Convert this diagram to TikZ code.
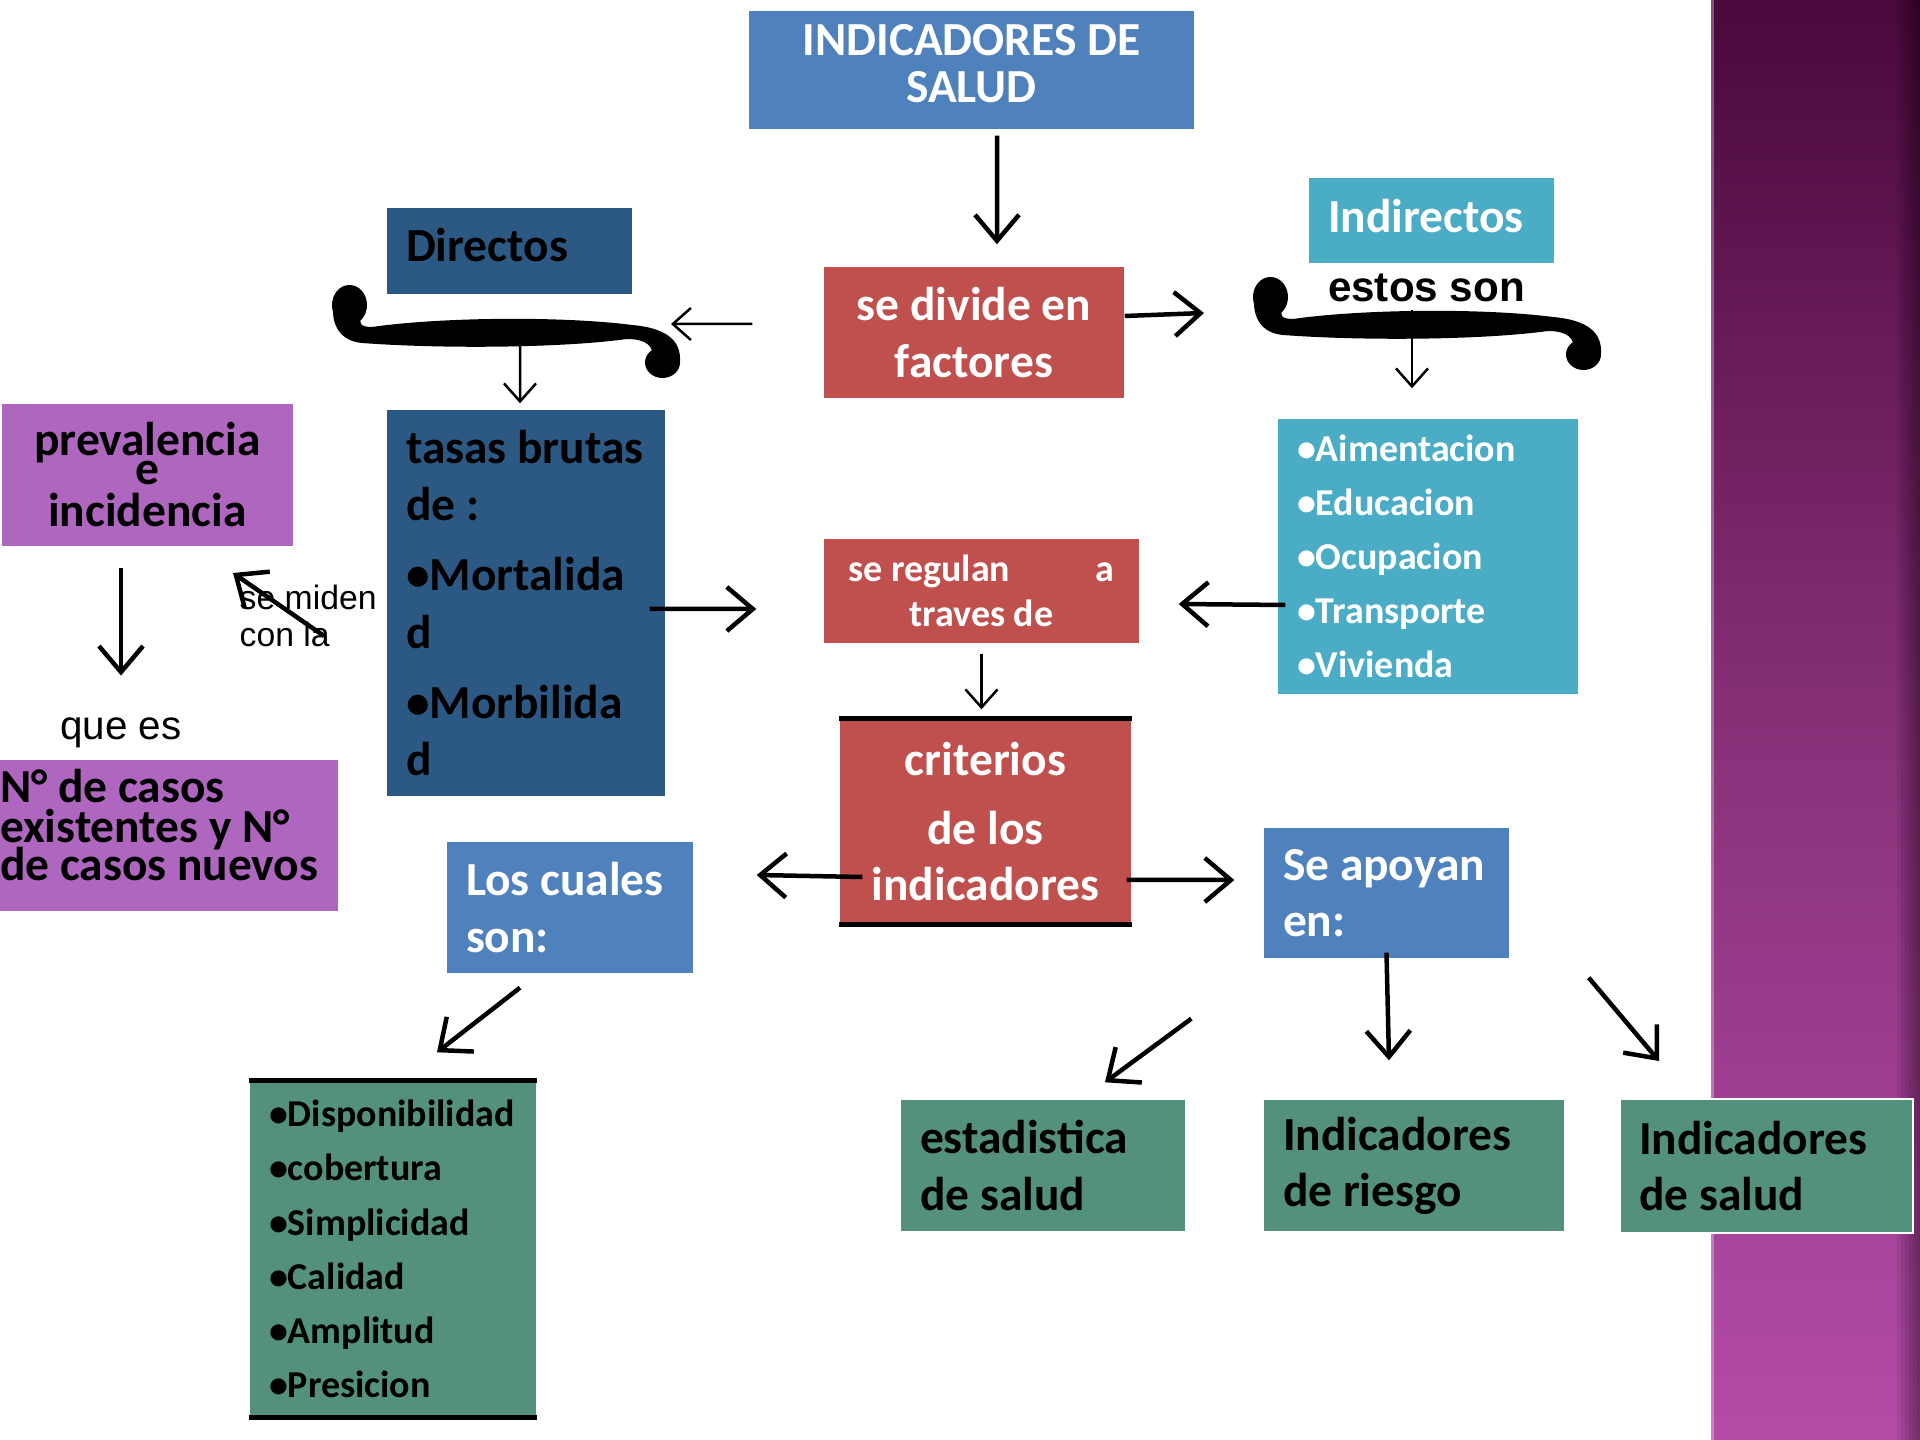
\documentclass[tikz,border=0pt]{standalone}
\usepackage{fontspec}
\setmainfont{Carlito}
\newfontfamily\arialfont{Liberation Sans}
\usetikzlibrary{arrows.meta}
\definecolor{indblue}{RGB}{79,129,189}
\definecolor{indred}{RGB}{192,80,77}
\definecolor{indteal}{RGB}{75,172,198}
\definecolor{inddark}{RGB}{44,89,132}
\definecolor{indpurple}{RGB}{174,102,190}
\definecolor{indgreen}{RGB}{83,145,126}
\definecolor{stripTop}{RGB}{74,8,60}
\definecolor{stripMid}{RGB}{135,48,120}
\definecolor{stripBot}{RGB}{180,76,168}
\tikzstyle{box}=[rectangle, inner xsep=1.9mm, inner ysep=0pt, font=\fontsize{13.5}{16}\selectfont\bfseries]
\tikzstyle{listbox}=[rectangle, inner xsep=1.9mm, inner ysep=0pt, align=flush left, font=\fontsize{10.8}{15.4}\selectfont\bfseries]
\tikzstyle{arr}=[line width=0.45mm, -{Straight Barb[length=2.6mm,width=4.4mm]}]
\tikzstyle{thinarr}=[line width=0.25mm, -{Straight Barb[length=1.8mm,width=3.2mm]}]
\tikzset{sbrace/.pic={
  \fill (30,-18) .. controls (26,-10) and (28,-6) .. (40,-6)
    .. controls (110,-16) and (230,-17) .. (300,-8)
    .. controls (335,-5) and (349,8) .. (348,28)
    -- (320,24)
    .. controls (322,14) and (315,6) .. (295,6)
    .. controls (230,15) and (110,16) .. (30,10)
    .. controls (8,8) and (0,-8) .. (1,-26) -- cycle;
  \fill (17.5,-28) ellipse [x radius=1.75mm, y radius=2mm];
  \fill (330.5,29.5) ellipse [x radius=1.75mm, y radius=1.55mm];
}}

\begin{document}
\begin{tikzpicture}[x=0.1mm, y=-0.1mm]
\fill[white] (0,0) rectangle (1920,1440);
\useasboundingbox (0,0) rectangle (1920,1440);

% side strip
\shade[top color=stripTop, bottom color=stripBot, middle color=stripMid] (1711,0) rectangle (1920,1440);
\fill[white, opacity=0.3] (1711,0) rectangle (1714,1440);
\foreach \k in {0,...,5} \fill[black, opacity=0.07] (1897+\k*4,0) rectangle (1920,1440);

% top
\node[box, fill=indblue, text=white, align=flush center, text depth=1.4mm, minimum width=44.5mm, minimum height=11.8mm, font=\fontsize{13.5}{13.4}\selectfont\bfseries] (ind) at (971.5,70) {INDICADORES DE\\SALUD};
\node[box, fill=indred, text=white, align=flush center, minimum width=30mm, minimum height=13.1mm] (div) at (974,332.5) {se divide en\\factores};

% directos
\node[box, fill=inddark, text width=20.7mm, text depth=1.2mm, minimum height=8.6mm, align=flush left] (dir) at (509.5,251) {Directos};
\coordinate (lbrace) at (332,333);
\pic at (lbrace) {sbrace};
\node[box, fill=inddark, text width=24mm, minimum height=38.6mm, align=flush left, font=\fontsize{13.5}{16.4}\selectfont\bfseries] (tasas) at (526,603) {\mbox{tasas brutas}\\de :\\[3.5pt]•Mortalida\\d\\[3.5pt]•Morbilida\\d};

% indirectos
\node[box, fill=indteal, text=white, text width=20.7mm, text depth=0.9mm, minimum height=8.5mm, align=flush left] (indir) at (1431.5,220.5) {Indirectos};
\coordinate (rbrace) at (1253,325);
\pic at (rbrace) {sbrace};
\node[font=\arialfont\fontsize{12}{14}\selectfont\bfseries, anchor=base, inner sep=0pt] (estos) at (1426.5,302) {estos son};
\node[listbox, fill=indteal, text=white, text width=26.2mm, minimum height=27.5mm] (fact) at (1428,556.5) {•Aimentacion\\•Educacion\\•Ocupacion\\•Transporte\\•Vivienda};

% prevalencia
\node[box, fill=indpurple, align=flush center, minimum width=29.1mm, minimum height=14.2mm, font=\fontsize{13.5}{12.2}\selectfont\bfseries] (prev) at (147.5,475) {prevalencia\\[-4.2pt]e\\incidencia};
\node[font=\arialfont\fontsize{11.5}{13}\selectfont, anchor=base, inner sep=0pt] (quees) at (121,740) {que es};
\node[font=\arialfont\fontsize{9.6}{10.5}\selectfont, align=left, anchor=west, inner sep=0pt] (miden) at (239,616) {se miden\\con la};
\coordinate (midtail) at (324,636);
\coordinate (midtip) at (233,573);
\node[box, fill=indpurple, text width=33.8mm, inner xsep=0pt, text height=1.3mm, minimum height=15.1mm, align=flush left, font=\fontsize{13.5}{11.4}\selectfont\bfseries] (casos) at (169,835.5) {N° de casos\\existentes y N°\\[-1.8pt]de casos nuevos};

% centre
\node[box, fill=indred, text=white, align=flush center, minimum width=31.5mm, minimum height=10.4mm, font=\fontsize{10.8}{12.8}\selectfont\bfseries] (regulan) at (981.5,591) {\makebox[26.6mm]{se regulan\hfill a}\\traves de};
\node[box, fill=indred, text=white, align=flush center, minimum width=29.1mm, minimum height=20.5mm] (crit) at (985.5,821.5) {criterios\\[3.7pt]de los\\indicadores};
\draw[line width=0.45mm] (crit.north west) -- (crit.north east);
\draw[line width=0.45mm] (crit.south west) -- (crit.south east);

% bottom
\node[box, fill=indblue, text=white, text width=20.8mm, minimum height=13.1mm, align=flush left] (cuales) at (570,907.5) {Los cuales\\son:};
\node[listbox, fill=indgreen, text width=24.8mm, minimum height=33.6mm] (disp) at (393,1249) {•Disponibilidad\\•cobertura\\•Simplicidad\\•Calidad\\•Amplitud\\•Presicion};
\draw[line width=0.5mm] (disp.north west) -- (disp.north east);
\draw[line width=0.5mm] (disp.south west) -- (disp.south east);
\node[box, fill=indblue, text=white, text width=20.7mm, minimum height=13mm, align=flush left] (apoyan) at (1386.5,893) {Se apoyan\\en:};
\node[box, fill=indgreen, text width=24.6mm, minimum height=13.1mm, align=flush left] (estad) at (1043,1165.5) {estadistica\\de salud};
\node[box, fill=indgreen, text width=26.2mm, minimum height=13.1mm, align=flush left] (riesgo) at (1414,1165.5) {Indicadores\\de riesgo};
\node[box, fill=indgreen, draw=white, line width=0.2mm, text width=25.5mm, minimum height=13.4mm, align=flush left] (salud) at (1766.5,1166) {Indicadores\\de salud};

% arrows
\draw[arr] ([xshift=2.55mm,yshift=-0.6mm]ind.south) -- ([xshift=2.3mm,yshift=2.2mm]div.north);
\draw[thinarr] ([xshift=-7.1mm,yshift=0.85mm]div.west) -- ([xshift=33.9mm,yshift=0.9mm]lbrace);
\draw[arr] ([yshift=1.65mm]div.east) -- ([xshift=-4.9mm,yshift=1.2mm]rbrace);
\draw[thinarr] ([xshift=18.8mm,yshift=-1.2mm]lbrace) -- ([xshift=-0.6mm,yshift=0.6mm]tasas.north);
\draw[thinarr] ([xshift=-1.45mm,yshift=-0.8mm]estos.base) -- ([xshift=-1.6mm,yshift=3mm]fact.north);
\draw[arr, shorten <=2.1mm, shorten >=4.2mm] (quees.north |- prev.south) -- (quees.north);
\draw[arr] (midtail) -- (midtip);
\draw[arr] ([xshift=-1.6mm,yshift=-0.6mm]tasas.east) -- ([xshift=-6.7mm,yshift=-1.8mm]regulan.west);
\draw[arr] ([xshift=0.8mm,yshift=-4.85mm]fact.west) -- ([xshift=3.9mm,yshift=-1.3mm]regulan.east);
\draw[thinarr, shorten <=1mm, shorten >=0.9mm] (regulan.south) -- (regulan.south |- crit.north);
\draw[arr] ([xshift=2.3mm,yshift=-5.55mm]crit.west) -- ([xshift=6.3mm,yshift=3.25mm]cuales.east);
\draw[arr] ([xshift=-0.5mm,yshift=-5.85mm]crit.east) -- ([xshift=-2.9mm,yshift=1.3mm]apoyan.west);
\draw[arr] ([xshift=-5mm,yshift=-1.4mm]cuales.south) -- ([xshift=4.4mm,yshift=2.8mm]disp.north);
\draw[arr] ([yshift=0.6mm]apoyan.south) -- ([xshift=-2.5mm,yshift=3.9mm]riesgo.north);
\draw[arr] ([xshift=7.9mm,yshift=-1.9mm]apoyan.south east) -- ([xshift=-10.75mm,yshift=3.7mm]salud.north);
\draw[arr] ([xshift=-7.2mm,yshift=-6mm]apoyan.south west) -- ([xshift=6.2mm,yshift=1.7mm]estad.north);

\end{tikzpicture}
\end{document}
